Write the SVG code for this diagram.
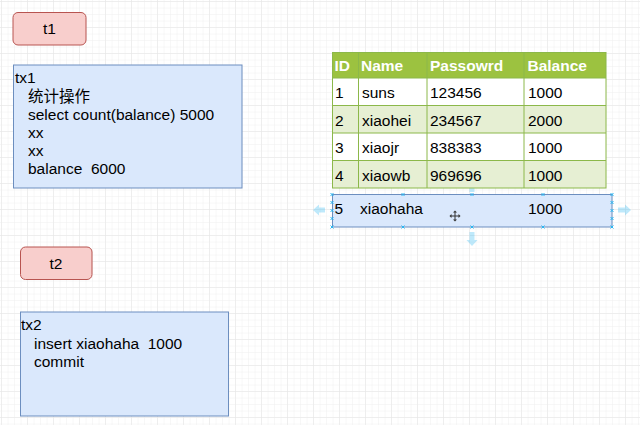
<svg xmlns="http://www.w3.org/2000/svg" width="640" height="425" viewBox="0 0 640 425">
<defs>
<pattern id="minor" width="6.5" height="6.5" patternUnits="userSpaceOnUse" x="0" y="0">
<path d="M6.5 0V6.5M0 6.5H6.5" fill="none" stroke="#f0f0f0" stroke-width="1"/>
</pattern>
<pattern id="major" width="26" height="26" patternUnits="userSpaceOnUse" x="2" y="2">
<rect width="26" height="26" fill="url(#minor)"/>
<path d="M26 0V26M0 26H26" fill="none" stroke="#e6e6e6" stroke-width="1"/>
</pattern>
<style>
.t{font-family:"Liberation Sans","Noto Sans CJK SC",Arial,sans-serif;font-size:15.5px;fill:#000;white-space:pre}
.h{font-family:"Liberation Sans",Arial,sans-serif;font-size:15.5px;font-weight:bold;fill:#fff}
.red{fill:#f8cecc;stroke:#b85450;stroke-width:1}
.blue{fill:#dae8fc;stroke:#6c8ebf;stroke-width:1}
.cell{stroke:#8cb84a;stroke-width:1}
.hd{fill:#9cc240}
.odd{fill:#ffffff}
.even{fill:#e6efd3}
.hdl{stroke:#29b6f2;stroke-width:1;fill:none}
.hov{fill:#29b6f2;opacity:0.3}
</style>
</defs>
<rect width="640" height="425" fill="#ffffff"/>
<rect width="640" height="425" fill="url(#major)"/>

<g id="t1">
<rect class="red" x="13" y="12.5" width="73" height="32.5" rx="5"/>
<text class="t" x="49.5" y="34" text-anchor="middle">t1</text>
</g>
<g id="tx1">
<rect class="blue" x="13.5" y="65" width="228.5" height="123"/>
<text class="t" x="15" y="83">tx1</text>
<text class="t" x="28" y="101.5">统计操作</text>
<text class="t" x="28" y="119.5">select count(balance) 5000</text>
<text class="t" x="28" y="137.5">xx</text>
<text class="t" x="28" y="155.5">xx</text>
<text class="t" x="28" y="174" xml:space="preserve">balance  6000</text>
</g>

<g id="t2">
<rect class="red" x="20.5" y="247" width="71.5" height="32.5" rx="5"/>
<text class="t" x="56" y="269" text-anchor="middle">t2</text>
</g>
<g id="tx2">
<rect class="blue" x="20.5" y="312" width="208" height="104"/>
<text class="t" x="21" y="330">tx2</text>
<text class="t" x="34" y="349" xml:space="preserve">insert xiaohaha  1000</text>
<text class="t" x="34" y="367">commit</text>
</g>

<g id="hover-arrows">
<path class="hov" d="M325 207.5H319V204.5L313 210L319 215.5V212.5H325Z"/>
<path class="hov" d="M618 207.5H625V204.5L631 210L625 215.5V212.5H618Z"/>
<path class="hov" d="M469.5 192V183H466.5L472 177L477.5 183H474.5V192Z"/>
<path class="hov" d="M469.5 232V240H466.5L472 246L477.5 240H474.5V232Z"/>
</g>

<g id="table">
<rect class="hd" x="332" y="52" width="274" height="26"/>
<rect class="odd" x="332" y="78" width="274" height="27.5"/>
<rect class="even" x="332" y="105.5" width="274" height="27.5"/>
<rect class="odd" x="332" y="133" width="274" height="27.5"/>
<rect class="even" x="332" y="160.5" width="274" height="27.5"/>
<g class="cell" fill="none">
<rect x="332.5" y="52.5" width="273.5" height="135.5"/>
<path d="M332 78H606M332 105.5H606M332 133H606M332 160.5H606"/>
<path d="M358.5 52V188M427 52V188M524 52V188"/>
</g>
<text class="h" x="334.5" y="71">ID</text>
<text class="h" x="361" y="71">Name</text>
<text class="h" x="430" y="71">Passowrd</text>
<text class="h" x="527.5" y="71">Balance</text>
<text class="t" x="335" y="98">1</text>
<text class="t" x="362" y="98">suns</text>
<text class="t" x="430" y="98">123456</text>
<text class="t" x="528" y="98">1000</text>
<text class="t" x="335" y="125.5">2</text>
<text class="t" x="362" y="125.5">xiaohei</text>
<text class="t" x="430" y="125.5">234567</text>
<text class="t" x="528" y="125.5">2000</text>
<text class="t" x="335" y="153">3</text>
<text class="t" x="362" y="153">xiaojr</text>
<text class="t" x="430" y="153">838383</text>
<text class="t" x="528" y="153">1000</text>
<text class="t" x="335" y="180.5">4</text>
<text class="t" x="362" y="180.5">xiaowb</text>
<text class="t" x="430" y="180.5">969696</text>
<text class="t" x="528" y="180.5">1000</text>
</g>

<g id="row5">
<rect class="blue" x="332.5" y="194.5" width="279.5" height="32.5"/>
<text class="t" x="334.5" y="214">5</text>
<text class="t" x="360" y="214">xiaohaha</text>
<text class="t" x="528" y="214">1000</text>
</g>

<g id="handles" class="hdl">
<path d="M330.5 193l3 3m0-3l-3 3M401.5 193l3 3m0-3l-3 3M470.5 193l3 3m0-3l-3 3M541.5 193l3 3m0-3l-3 3M610.5 193l3 3m0-3l-3 3"/>
<path d="M330.5 225.5l3 3m0-3l-3 3M401.5 225.5l3 3m0-3l-3 3M470.5 225.5l3 3m0-3l-3 3M541.5 225.5l3 3m0-3l-3 3M610.5 225.5l3 3m0-3l-3 3"/>
<path d="M330.5 209l3 3m0-3l-3 3M610.5 201l3 3m0-3l-3 3M610.5 209l3 3m0-3l-3 3M610.5 217l3 3m0-3l-3 3M330.5 201l3 3m0-3l-3 3M330.5 217l3 3m0-3l-3 3"/>
</g>

<g id="move-cursor" fill="#333" stroke="#333" stroke-width="1">
<path d="M451 216H459M455 212V220" fill="none"/>
<path d="M455 210.5l-2 2h4zM455 221.5l-2-2h4zM449.5 216l2-2v4zM460.5 216l-2-2v4z" stroke="none"/>
</g>
</svg>
